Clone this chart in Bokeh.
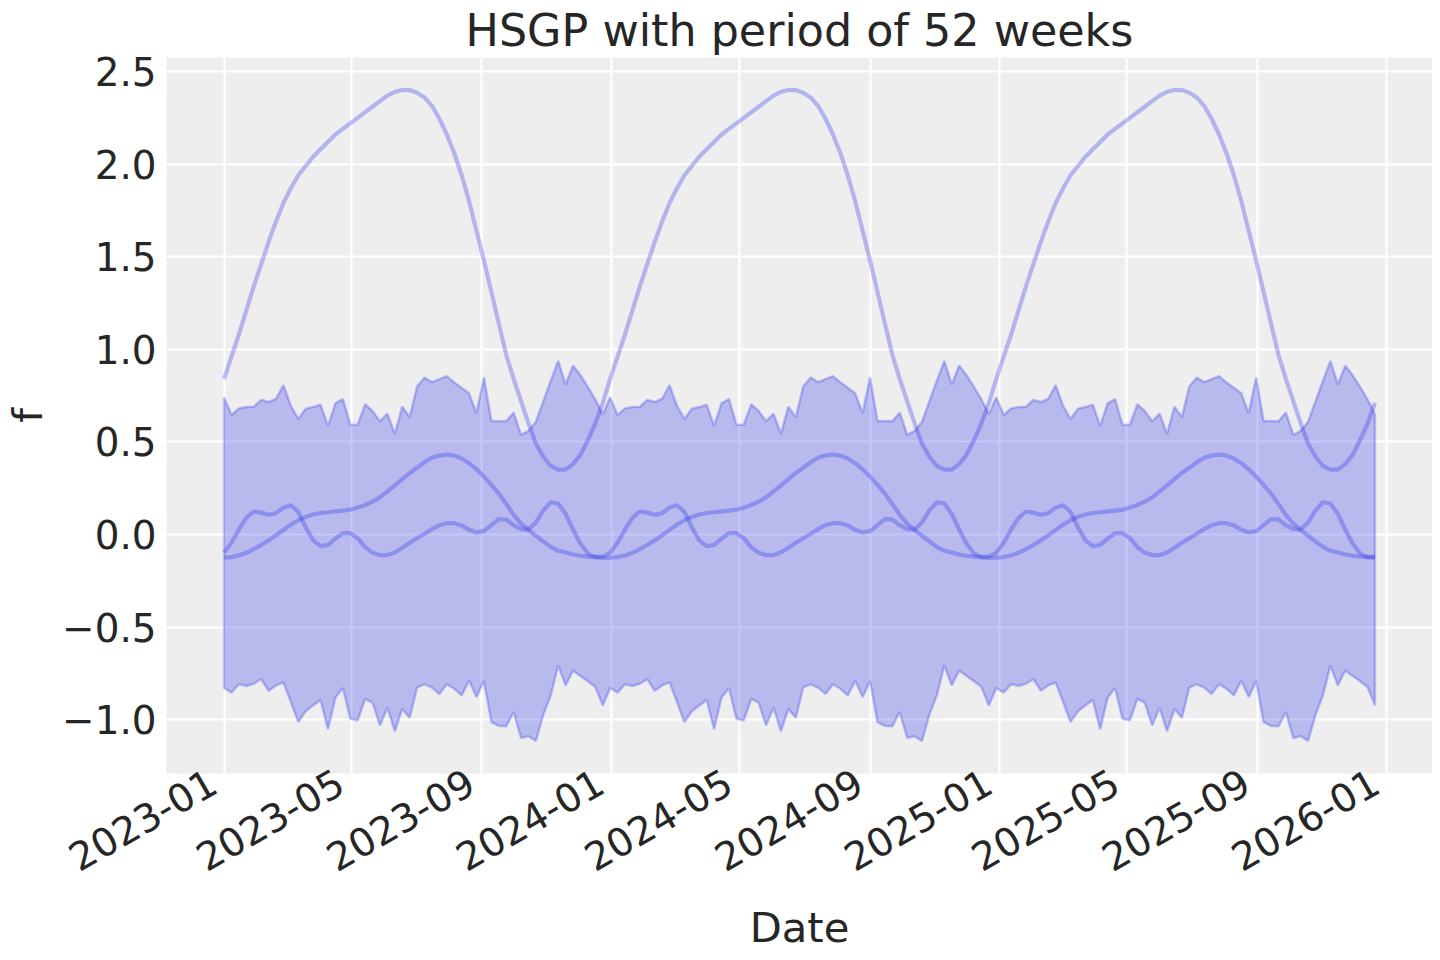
import math
import numpy as np
import pandas as pd
from bokeh.plotting import figure
from bokeh.models import Range1d, FixedTicker
from bokeh.embed import file_html
from bokeh.resources import INLINE

# ---------------- data ----------------
start_date = "2023-01-01"
weeks_per_period = 52
n_periods = 3

# one 52-week period of each series (the chart repeats it exactly)
upper_year = [0.740, 0.645, 0.681, 0.688, 0.690, 0.726, 0.715, 0.733, 0.806, 0.694,
              0.624, 0.679, 0.688, 0.701, 0.586, 0.708, 0.731, 0.593, 0.593, 0.703,
              0.667, 0.611, 0.652, 0.543, 0.690, 0.633, 0.799, 0.848, 0.823, 0.839,
              0.855, 0.821, 0.792, 0.762, 0.654, 0.848, 0.613, 0.613, 0.611, 0.659,
              0.538, 0.559, 0.609, 0.720, 0.830, 0.937, 0.810, 0.912, 0.860, 0.797,
              0.729, 0.649]
lower_year = [-0.829, -0.854, -0.809, -0.818, -0.806, -0.782, -0.844, -0.815, -0.799, -0.905,
              -1.013, -0.955, -0.923, -0.894, -1.052, -0.881, -0.829, -0.995, -1.004, -0.888,
              -0.908, -1.031, -0.935, -1.063, -0.942, -0.990, -0.826, -0.809, -0.827, -0.862,
              -0.809, -0.833, -0.869, -0.790, -0.878, -0.791, -1.013, -1.034, -1.036, -0.959,
              -1.099, -1.090, -1.115, -0.973, -0.869, -0.707, -0.815, -0.734, -0.764, -0.793,
              -0.824, -0.923]
big_year = [0.84, 0.96, 1.08, 1.21, 1.34, 1.46, 1.58, 1.69, 1.79, 1.87,
            1.94, 1.99, 2.04, 2.08, 2.12, 2.16, 2.19, 2.22, 2.25, 2.28,
            2.31, 2.34, 2.37, 2.39, 2.40, 2.40, 2.385, 2.36, 2.315, 2.245,
            2.16, 2.06, 1.94, 1.80, 1.64, 1.48, 1.31, 1.14, 0.97, 0.84,
            0.72, 0.60, 0.49, 0.42, 0.37, 0.35, 0.35, 0.38, 0.43, 0.51,
            0.60, 0.71]
hump_year = [-0.125, -0.122, -0.113, -0.099, -0.079, -0.057, -0.032, -0.004, 0.025, 0.054,
             0.077, 0.095, 0.108, 0.116, 0.120, 0.125, 0.129, 0.134, 0.145, 0.159,
             0.177, 0.200, 0.233, 0.265, 0.299, 0.332, 0.360, 0.390, 0.414, 0.426,
             0.432, 0.426, 0.410, 0.385, 0.352, 0.312, 0.268, 0.221, 0.165, 0.106,
             0.059, 0.025, -0.007, -0.038, -0.067, -0.088, -0.097, -0.108, -0.115, -0.120,
             -0.122, -0.126]
wiggle_year = [-0.099, -0.045, 0.027, 0.090, 0.124, 0.118, 0.106, 0.115, 0.145, 0.158,
               0.122, 0.039, -0.032, -0.063, -0.057, -0.022, 0.007, 0.007, -0.020, -0.068,
               -0.099, -0.111, -0.111, -0.097, -0.072, -0.045, -0.020, 0.004, 0.029, 0.050,
               0.061, 0.061, 0.049, 0.025, 0.011, 0.018, 0.050, 0.083, 0.081, 0.050,
               0.029, 0.027, 0.065, 0.130, 0.174, 0.167, 0.112, 0.027, -0.050, -0.103,
               -0.122, -0.119]

x_tick_dates = ["2023-01-01", "2023-05-01", "2023-09-01", "2024-01-01", "2024-05-01",
                "2024-09-01", "2025-01-01", "2025-05-01", "2025-09-01", "2026-01-01"]
x_tick_labels = ["2023-01", "2023-05", "2023-09", "2024-01", "2024-05",
                 "2024-09", "2025-01", "2025-05", "2025-09", "2026-01"]
y_ticks = [-1.0, -0.5, 0.0, 0.5, 1.0, 1.5, 2.0, 2.5]
y_tick_labels = ["\u22121.0", "\u22120.5", "0.0", "0.5", "1.0", "1.5", "2.0", "2.5"]

title_text = "HSGP with period of 52 weeks"
x_label = "Date"
y_label = "f"

# ---------------- build series ----------------
dates = pd.date_range(start_date, periods=weeks_per_period * n_periods, freq="7D")
dates_ms = dates.values.astype("datetime64[ms]").astype("int64").astype(float)
upper = np.tile(upper_year, n_periods)
lower = np.tile(lower_year, n_periods)
big = np.tile(big_year, n_periods)
hump = np.tile(hump_year, n_periods)
wiggle = np.tile(wiggle_year, n_periods)

# matplotlib-like 5% auto margins
x_pad = 0.05 * (dates_ms[-1] - dates_ms[0])
y_lo = min(lower.min(), big.min(), hump.min(), wiggle.min())
y_hi = max(upper.max(), big.max(), hump.max(), wiggle.max())
y_pad = 0.05 * (y_hi - y_lo)

C0 = "#2a2eec"
TEXT = "#262626"
FONT = "DejaVu Sans"

p = figure(frame_width=1266, frame_height=716, x_axis_type="datetime",
           output_backend="svg", toolbar_location=None,
           x_range=Range1d(dates_ms[0] - x_pad, dates_ms[-1] + x_pad),
           y_range=Range1d(y_lo - y_pad, y_hi + y_pad),
           min_border_left=158, min_border_right=0,
           min_border_top=51, min_border_bottom=170,
           title=title_text)

p.background_fill_color = "#eeeeee"
p.border_fill_color = "white"
p.outline_line_color = None

p.title.align = "center"
p.title.text_font = FONT
p.title.text_font_size = "44.4px"
p.title.text_font_style = "normal"
p.title.text_color = TEXT
p.title.standoff = 4

# band (HDI-like)
band_x = np.concatenate([dates_ms, dates_ms[::-1]])
band_y = np.concatenate([upper, lower[::-1]])
p.patch(band_x, band_y, fill_color=C0, fill_alpha=0.27,
        line_color=C0, line_alpha=0.27, line_width=2.5)

# sample lines
for series in (big, hump, wiggle):
    p.line(dates_ms, series, line_color=C0, line_alpha=0.3, line_width=4.2)

# axes
x_tick_ms = [pd.Timestamp(d).value / 1e6 for d in x_tick_dates]
p.xaxis.ticker = FixedTicker(ticks=x_tick_ms)
# a trailing no-break space mimics matplotlib's right-aligned rotated labels
p.xaxis.major_label_overrides = {t: l + "\u00a0" for t, l in zip(x_tick_ms, x_tick_labels)}
p.xaxis.major_label_orientation = math.pi / 6
p.yaxis.ticker = FixedTicker(ticks=y_ticks)
p.yaxis.major_label_overrides = {t: l for t, l in zip(y_ticks, y_tick_labels)}

p.xaxis.axis_label = x_label
p.yaxis.axis_label = y_label

for ax in (p.xaxis[0], p.yaxis[0]):
    ax.axis_line_color = None
    ax.major_tick_line_color = None
    ax.minor_tick_line_color = None
    ax.major_tick_out = 0
    ax.major_tick_in = 0
    ax.minor_tick_out = 0
    ax.minor_tick_in = 0
    ax.major_label_text_font = FONT
    ax.major_label_text_font_size = "38.9px"
    ax.major_label_text_color = TEXT
    ax.axis_label_text_font = FONT
    ax.axis_label_text_font_size = "41.7px"
    ax.axis_label_text_font_style = "normal"
    ax.axis_label_text_color = TEXT

p.yaxis.major_label_standoff = 10
p.yaxis.axis_label_standoff = 7
p.xaxis.major_label_standoff = 0
p.xaxis.axis_label_standoff = 0

p.grid.grid_line_color = "white"
p.grid.grid_line_width = 2.2

open("out.html", "w").write(file_html(p, INLINE))
